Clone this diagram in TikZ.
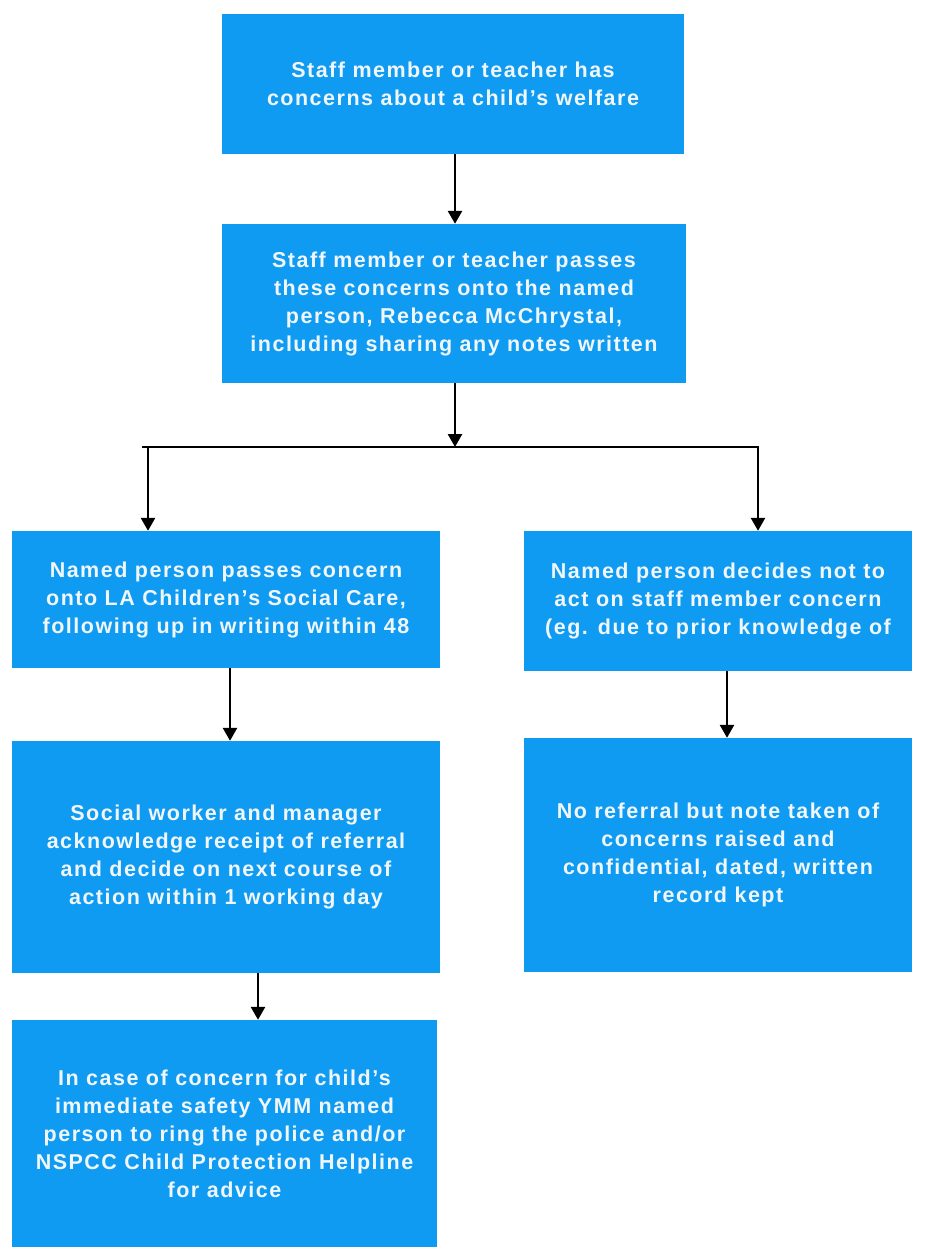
\documentclass[tikz,border=0pt]{standalone}
\usepackage{fontspec}
\setmainfont{Liberation Sans}[LetterSpace=7]
\usetikzlibrary{arrows.meta}
\definecolor{boxblue}{RGB}{16,155,242}
\definecolor{txtwhite}{RGB}{240,246,250}
\tikzset{
  flowbox/.style={fill=boxblue, draw=none, inner sep=0pt, align=center,
    text=txtwhite, font=\bfseries\fontsize{21.5}{28}\selectfont},
  flowarrow/.style={draw=black, line width=2.6pt, -{Triangle[width=14pt,length=13pt]}},
  flowline/.style={draw=black, line width=2.6pt}
}
\begin{document}
\begin{tikzpicture}[x=1pt,y=-1pt]
\useasboundingbox (0,0) rectangle (925,1247);
\node[flowbox, minimum width=462pt, minimum height=140pt] (b1) at (453,84)
  {Staff member or teacher has\\concerns about a child's welfare};
\node[flowbox, minimum width=464pt, minimum height=159pt] (b2) at (454,303.5)
  {Staff member or teacher passes\\these concerns onto the named\\person, Rebecca McChrystal,\\including sharing any notes written};
\node[flowbox, minimum width=428pt, minimum height=137pt] (b3) at (226,599.5)
  {Named person passes concern\\onto LA Children's Social Care,\\following up in writing within 48};
\node[flowbox, minimum width=388pt, minimum height=140pt] (b4) at (718,601)
  {Named person decides not to\\act on staff member concern\\(eg. due to prior knowledge of};
\node[flowbox, minimum width=428pt, minimum height=232pt] (b5) at (226,857)
  {Social worker and manager\\acknowledge receipt of referral\\and decide on next course of\\action within 1 working day};
\node[flowbox, minimum width=388pt, minimum height=234pt] (b6) at (718,855)
  {No referral but note taken\ of\\concerns raised and\\confidential, dated, written\\record kept};
\node[flowbox, minimum width=425pt, minimum height=227pt] (b7) at (224.5,1133.5)
  {In case of concern for child's\\immediate safety YMM named\\person to ring the police and/or\\NSPCC Child Protection Helpline\\for advice};
\coordinate (j) at (455,447);
\coordinate (jl) at (142,447);
\coordinate (jr) at (759.3,447);
\coordinate (al) at (148,447);
\coordinate (ar) at (758,447);
\draw[flowarrow] (b1.south -| 455,0) -- (b2.north -| 455,0);
\draw[flowarrow] (b2.south -| j) -- (j);
\draw[flowline] (jl) -- (jr);
\draw[flowarrow] (al) -- (b3.north -| al);
\draw[flowarrow] (ar) -- (b4.north -| ar);
\draw[flowarrow] (b3.south -| 230,0) -- (b5.north -| 230,0);
\draw[flowarrow] (b4.south -| 727,0) -- (b6.north -| 727,0);
\draw[flowarrow] (b5.south -| 258,0) -- (b7.north -| 258,0);
\end{tikzpicture}
\end{document}
